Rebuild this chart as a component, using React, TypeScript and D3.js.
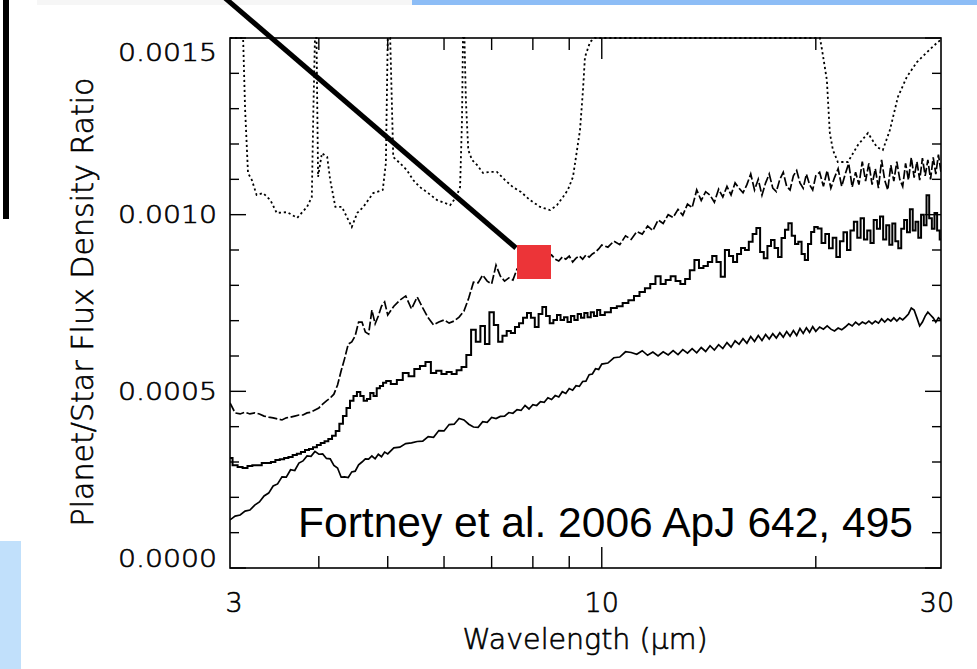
import React from "react";
import * as d3 from "d3";

// Wavelength grid (µm) shared by the three model spectra
const wavelengths = [
  3.00, 3.05, 3.10, 3.15, 3.20, 3.25, 3.30, 3.35, 3.40, 3.45, 3.50, 3.55, 3.60, 3.65, 3.70, 3.75, 3.80, 3.85, 3.90, 3.95,
  4.00, 4.05, 4.10, 4.15, 4.20, 4.25, 4.30, 4.35, 4.40, 4.45, 4.50, 4.55, 4.60, 4.65, 4.70, 4.75, 4.80, 4.85, 4.90, 4.95, 5.00,
  5.1, 5.2, 5.3, 5.4, 5.5, 5.6, 5.7, 5.8, 5.9, 6.0, 6.1, 6.2, 6.3, 6.4, 6.5, 6.6, 6.7, 6.8, 6.9, 7.0,
  7.1, 7.2, 7.3, 7.4, 7.5, 7.6, 7.7, 7.8, 7.9, 8.0, 8.1, 8.2, 8.3, 8.4, 8.5, 8.6, 8.7, 8.8, 8.9, 9.0,
  9.1, 9.2, 9.3, 9.4, 9.5, 9.6, 9.7, 9.8, 9.9, 10.0,
  10.2, 10.4, 10.6, 10.8, 11.0, 11.2, 11.4, 11.6, 11.8, 12.0, 12.2, 12.4, 12.6, 12.8, 13.0, 13.2, 13.4, 13.6, 13.8, 14.0,
  14.2, 14.4, 14.6, 14.8, 15.0, 15.2, 15.4, 15.6, 15.8, 16.0, 16.2, 16.4, 16.6, 16.8, 17.0, 17.2, 17.4, 17.6, 17.8, 18.0,
  18.2, 18.4, 18.6, 18.8, 19.0, 19.2, 19.4, 19.6, 19.8, 20.0,
  20.25, 20.5, 20.75, 21.0, 21.25, 21.5, 21.75, 22.0, 22.25, 22.5, 22.75, 23.0, 23.25, 23.5, 23.75, 24.0, 24.25, 24.5, 24.75, 25.0,
  25.25, 25.5, 25.75, 26.0, 26.25, 26.5, 26.75, 27.0, 27.25, 27.5, 27.75, 28.0, 28.25, 28.5, 28.75, 29.0, 29.25, 29.5, 29.75, 30.0,
];

// Planet/star flux density ratio, in units of 1e-4
const ratioUpper = [
  4.67, 4.39, 4.36, 4.41, 4.36, 4.39, 4.36, 4.30, 4.27, 4.25, 4.22, 4.19, 4.25, 4.27, 4.30, 4.33, 4.33, 4.39, 4.41, 4.47,
  4.53, 4.64, 4.73, 4.81, 4.92, 5.18, 5.58, 5.94, 6.34, 6.40, 6.57, 6.96, 6.96, 6.68, 6.62, 7.30, 6.91, 7.13, 7.41, 7.53, 7.16,
  7.41, 7.58, 7.70, 7.33, 7.67, 7.36, 7.08, 6.88, 6.96, 7.02, 6.93, 6.99, 7.10, 7.27, 7.64, 8.09, 8.07, 8.29, 8.12, 8.04,
  8.57, 8.26, 8.12, 8.21, 8.15, 8.46, 8.55, 8.57, 8.63, 8.66, 8.63, 8.69, 8.72, 8.77, 8.86, 8.74, 8.69, 8.80, 8.74, 8.83,
  8.66, 8.77, 8.83, 8.74, 8.86, 8.80, 8.89, 8.94, 9.03, 9.14,
  9.08, 9.25, 9.15, 9.40, 9.30, 9.52, 9.45, 9.68, 9.55, 9.85, 9.75, 10.00, 9.92, 10.15, 9.98, 10.30, 10.20, 10.70, 10.40, 10.65,
  10.55, 10.35, 10.72, 10.50, 10.80, 10.56, 10.90, 10.75, 10.62, 10.85, 11.15, 10.70, 11.00, 10.55, 10.90, 11.15, 10.75, 10.65, 11.00, 11.20,
  10.80, 10.70, 11.10, 11.25, 10.90, 10.75, 11.15, 10.85, 10.70, 11.10,
  11.20, 10.80, 11.25, 10.75, 11.05, 11.30, 10.80, 11.15, 11.45, 10.78, 11.20, 10.85, 11.50, 10.95, 11.45, 10.85, 11.30, 10.75, 11.55, 10.98,
  10.70, 11.40, 10.95, 11.50, 11.00, 10.80, 11.45, 10.98, 11.62, 11.05, 11.50, 10.98, 11.60, 11.10, 11.55, 11.00, 11.62, 11.15, 11.70, 11.20,
];

const ratioMiddle = [
  3.11, 2.91, 2.86, 2.83, 2.89, 2.91, 2.91, 2.97, 2.97, 3.00, 3.06, 3.08, 3.11, 3.14, 3.20, 3.23, 3.28, 3.34, 3.37, 3.42,
  3.48, 3.54, 3.59, 3.65, 3.74, 3.88, 4.08, 4.30, 4.53, 4.73, 4.87, 4.98, 4.87, 4.73, 4.78, 4.95, 4.87, 5.09, 5.15, 5.24, 5.29,
  5.21, 5.32, 5.52, 5.43, 5.63, 5.72, 5.83, 5.52, 5.58, 5.49, 5.55, 5.49, 5.60, 5.69, 6.03, 6.74, 6.40, 6.85, 6.34, 7.24,
  6.88, 6.40, 6.57, 6.71, 6.65, 6.82, 6.93, 7.08, 7.22, 7.08, 6.82, 7.19, 7.39, 7.13, 6.93, 7.02, 7.16, 7.02, 7.10, 6.96,
  7.13, 7.02, 7.19, 7.08, 7.22, 7.10, 7.24, 7.13, 7.30, 7.16,
  7.24, 7.36, 7.41, 7.50, 7.58, 7.70, 7.81, 7.92, 8.04, 8.26, 8.04, 8.15, 8.26, 8.12, 8.04, 8.18, 8.43, 8.72, 8.49, 8.55,
  8.66, 8.83, 8.66, 8.24, 9.00, 8.83, 8.66, 8.89, 9.06, 9.00, 9.23, 9.45, 9.62, 8.94, 8.77, 9.11, 9.28, 9.06, 8.80, 9.34,
  9.57, 9.76, 9.40, 9.17, 9.23, 8.89, 8.72, 9.17, 9.51, 9.65,
  9.61, 9.20, 9.45, 9.05, 9.35, 8.80, 9.25, 9.50, 9.00, 9.55, 9.80, 9.35, 9.90, 9.30, 9.55, 9.20, 9.85, 9.60, 9.95, 9.30,
  9.70, 9.15, 9.75, 9.25, 9.05, 9.60, 9.85, 9.50, 10.15, 9.55, 9.80, 9.35, 10.00, 9.70, 10.55, 9.90, 9.60, 10.05, 9.55, 9.30,
];

const ratioLower = [
  1.36, 1.47, 1.50, 1.61, 1.64, 1.78, 1.87, 2.04, 2.12, 2.32, 2.38, 2.58, 2.57, 2.78, 2.76, 2.97, 3.03, 3.17, 3.16, 3.30,
  3.22, 3.23, 3.10, 3.09, 2.90, 2.83, 2.57, 2.58, 2.56, 2.72, 2.74, 2.92, 3.00, 3.09, 3.08, 3.17, 3.09, 3.22, 3.15, 3.28, 3.23,
  3.40, 3.42, 3.52, 3.54, 3.58, 3.59, 3.72, 3.70, 3.89, 3.88, 4.06, 4.07, 4.23, 4.19, 4.07, 3.99, 3.98, 4.14, 4.12, 4.26,
  4.23, 4.29, 4.30, 4.40, 4.38, 4.48, 4.46, 4.60, 4.50, 4.62, 4.60, 4.71, 4.69, 4.82, 4.77, 4.88, 4.84, 4.99, 4.94, 5.08,
  5.03, 5.16, 5.14, 5.28, 5.29, 5.47, 5.49, 5.64, 5.62, 5.77,
  5.80, 5.95, 5.97, 6.12, 6.10, 6.05, 6.15, 6.02, 6.11, 6.00, 6.12, 6.03, 6.15, 6.04, 6.18, 6.08, 6.21, 6.09, 6.24, 6.13,
  6.29, 6.17, 6.32, 6.21, 6.38, 6.25, 6.43, 6.33, 6.49, 6.36, 6.55, 6.41, 6.58, 6.44, 6.61, 6.48, 6.63, 6.51, 6.66, 6.53,
  6.69, 6.56, 6.72, 6.58, 6.78, 6.64, 6.80, 6.67, 6.83, 6.70,
  6.82, 6.76, 6.85, 6.76, 6.71, 6.79, 6.74, 6.82, 6.91, 6.85, 6.96, 6.88, 6.96, 6.91, 6.99, 6.91, 6.99, 6.93, 7.05, 6.96,
  7.05, 6.99, 7.08, 6.99, 7.08, 7.02, 7.10, 7.19, 7.36, 7.30, 7.08, 6.85, 6.96, 7.13, 7.24, 7.16, 7.08, 6.96, 7.08, 7.02,
];

// Dotted band profile (scaled), in units of 1e-4; values above the axis top run along the frame
const bandWavelengths = [
  3.00, 3.13, 3.15, 3.18, 3.22, 3.27, 3.34, 3.42, 3.49, 3.61, 3.73, 3.85, 3.91, 3.93, 3.95, 3.97,
  3.99, 4.04, 4.11, 4.15, 4.22, 4.31, 4.40, 4.45, 4.53, 4.62, 4.77, 4.92, 4.97, 5.00, 5.04,
  5.09, 5.20, 5.32, 5.43, 5.55, 5.70, 5.87, 6.02, 6.12, 6.24, 6.32, 6.36, 6.38, 6.41,
  6.44, 6.49, 6.57, 6.68, 6.81, 6.96, 7.12, 7.31, 7.50, 7.70, 7.93, 8.19, 8.46, 8.65, 8.82, 8.96,
  9.11, 9.23, 9.32, 9.41, 9.47, 9.63, 9.78,
  20.27, 20.41, 20.73, 20.93, 21.14, 21.48, 22.19, 22.92, 23.68, 24.38, 24.85, 25.43, 26.09, 26.86, 27.75, 28.67, 29.71, 30.0,
];
const bandValues = [
  15.3, 15.2, 13.0, 11.18, 10.98, 10.56, 10.61, 10.41, 10.05, 10.07, 9.91, 10.22, 10.50, 13.0, 15.3, 15.3,
  11.07, 11.74, 11.63, 10.98, 10.22, 10.22, 9.85, 9.65, 10.05, 10.22, 10.61, 10.70, 11.46, 15.3, 15.3,
  11.63, 11.46, 11.26, 10.98, 10.78, 10.61, 10.41, 10.33, 10.27, 10.50, 10.78, 12.68, 15.3, 15.3,
  13.24, 11.83, 11.55, 11.40, 11.18, 11.21, 11.21, 10.98, 10.78, 10.64, 10.41, 10.22, 10.13, 10.27, 10.50, 10.70,
  11.07, 11.83, 12.40, 13.53, 14.46, 14.89, 15.3,
  15.3, 14.66, 13.81, 12.31, 11.83, 11.49, 11.49, 11.97, 12.31, 11.91, 11.83, 12.40, 13.33, 13.90, 14.32, 14.60, 14.89, 14.95,
];

// Axis ticks
const yMajorTicks = [0, 5, 10, 15];
const yMinorTicks = [1, 2, 3, 4, 6, 7, 8, 9, 11, 12, 13, 14];
const xLabelTicks = [3, 10, 30];
const xMajorTicks = [10];
const xMinorTicks = [4, 5, 6, 7, 8, 9, 20];

const citation = "Fortney et al. 2006 ApJ 642, 495";

const W = 977;
const H = 669;
const plot = { left: 230, right: 941, top: 38, bottom: 568 };

const axisFont = "'DejaVu Sans', 'Liberation Sans', sans-serif";

export default function App() {
  const x = d3.scaleLog().domain([3, 30]).range([plot.left, plot.right]);
  const y = d3.scaleLinear().domain([0, 15]).range([plot.bottom, plot.top]).clamp(true);

  const toPoints = (vals: number[]) => wavelengths.map((w, i) => [w, vals[i]] as [number, number]);
  const linePath = d3.line<[number, number]>().x((d) => x(d[0])).y((d) => y(d[1]));
  const stepPath = d3
    .line<[number, number]>()
    .x((d) => x(d[0]))
    .y((d) => y(d[1]))
    .curve(d3.curveStep);

  const bandPts = bandWavelengths.map((w, i) => [w, bandValues[i]] as [number, number]);

  const fmt = (v: number) => (v * 1e-4).toFixed(4);

  return (
    <svg
      width={W}
      height={H}
      viewBox={`0 0 ${W} ${H}`}
      style={{ position: "absolute", left: 0, top: 0, background: "#fff" }}
    >
      <defs>
        <clipPath id="plotClip">
          <rect x={plot.left} y={plot.top - 1} width={plot.right - plot.left} height={plot.bottom - plot.top + 1} />
        </clipPath>
      </defs>
      <rect x={0} y={0} width={W} height={H} fill="#fff" />

      {/* slide decorations */}
      <rect x={37} y={0} width={375} height={5} fill="#f6f6f6" />
      <rect x={412} y={0} width={565} height={5} fill="#8dbdf6" />
      <rect x={3} y={0} width={6} height={219} fill="#000" />
      <rect x={0} y={541} width={21} height={128} fill="#c1e0fb" />

      {/* spectra */}
      <g clipPath="url(#plotClip)" fill="none" stroke="#000">
        <path d={linePath(bandPts) || ""} strokeWidth={1.8} strokeDasharray="2.2 2.8" />
        <path d={linePath(toPoints(ratioLower)) || ""} strokeWidth={1.7} />
        <path d={stepPath(toPoints(ratioMiddle)) || ""} strokeWidth={2} />
        <path d={linePath(toPoints(ratioUpper)) || ""} strokeWidth={1.7} strokeDasharray="9 2.5" />
      </g>

      {/* frame */}
      <rect
        x={plot.left}
        y={plot.top}
        width={plot.right - plot.left}
        height={plot.bottom - plot.top}
        fill="none"
        stroke="#000"
        strokeWidth={1.6}
      />

      {/* ticks on all four sides */}
      <g stroke="#000" strokeWidth={1.4}>
        {yMajorTicks.map((t) => (
          <g key={`ym${t}`}>
            <line x1={plot.left} x2={plot.left + 16} y1={y(t)} y2={y(t)} />
            <line x1={plot.right} x2={plot.right - 16} y1={y(t)} y2={y(t)} />
          </g>
        ))}
        {yMinorTicks.map((t) => (
          <g key={`yn${t}`}>
            <line x1={plot.left} x2={plot.left + 9} y1={y(t)} y2={y(t)} />
            <line x1={plot.right} x2={plot.right - 9} y1={y(t)} y2={y(t)} />
          </g>
        ))}
        {xMajorTicks.map((t) => (
          <g key={`xm${t}`}>
            <line x1={x(t)} x2={x(t)} y1={plot.bottom} y2={plot.bottom - 21} />
            <line x1={x(t)} x2={x(t)} y1={plot.top} y2={plot.top + 21} />
          </g>
        ))}
        {xMinorTicks.map((t) => (
          <g key={`xn${t}`}>
            <line x1={x(t)} x2={x(t)} y1={plot.bottom} y2={plot.bottom - 12} />
            <line x1={x(t)} x2={x(t)} y1={plot.top} y2={plot.top + 12} />
          </g>
        ))}
      </g>

      {/* tick labels and axis titles */}
      <g fontFamily={axisFont} fontWeight={200} fill="#000" stroke="#000" strokeWidth={0.6}>
        {yMajorTicks.map((t) => (
          <text
            key={`yl${t}`}
            x={217}
            y={Math.min(558, Math.max(52, y(t)))}
            fontSize={25}
            textAnchor="end"
            dominantBaseline="central"
            textLength={99}
            lengthAdjust="spacingAndGlyphs"
          >
            {fmt(t)}
          </text>
        ))}
        {xLabelTicks.map((t) => (
          <text
            key={`xl${t}`}
            x={Math.min(937, Math.max(234, x(t)))}
            y={612}
            fontSize={27}
            textAnchor="middle"
          >
            {String(t)}
          </text>
        ))}
        <text x={585} y={649} fontSize={28} textAnchor="middle" textLength={245} lengthAdjust="spacingAndGlyphs">
          Wavelength (μm)
        </text>
        <text
          transform="translate(93,302) rotate(-90)"
          fontSize={30}
          textAnchor="middle"
          textLength={449}
          lengthAdjust="spacingAndGlyphs"
        >
          Planet/Star Flux Density Ratio
        </text>
      </g>

      {/* citation */}
      <text
        x={298}
        y={537}
        fontFamily="'Liberation Sans', Arial, sans-serif"
        fontSize={42}
        fill="#000"
        textLength={615}
        lengthAdjust="spacingAndGlyphs"
      >
        {citation}
      </text>

      {/* pointer and marker */}
      <line x1={225} y1={-2} x2={516} y2={248} stroke="#000" strokeWidth={5} />
      <rect x={517} y={245} width={34} height={34} fill="#ec3438" />
    </svg>
  );
}
